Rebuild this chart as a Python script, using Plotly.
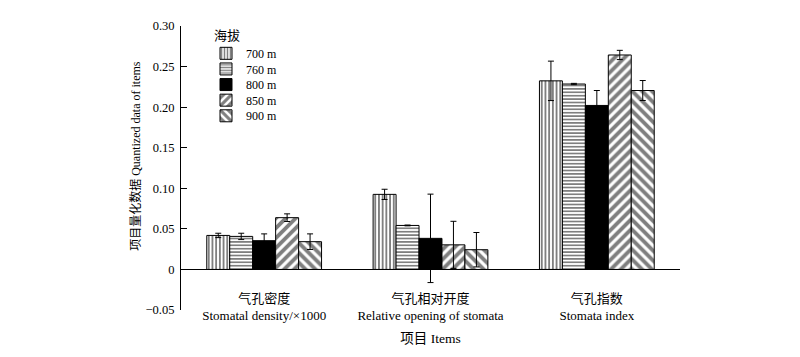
import plotly.graph_objects as go

categories = ["气孔密度<br>Stomatal density/×1000",
              "气孔相对开度<br>Relative opening of stomata",
              "气孔指数<br>Stomata index"]
series_names = ["700 m", "760 m", "800 m", "850 m", "900 m"]
values_700 = [0.0419, 0.0925, 0.2324]
values_760 = [0.0407, 0.0542, 0.2285]
values_800 = [0.0354, 0.0383, 0.2021]
values_850 = [0.0638, 0.0303, 0.2643]
values_900 = [0.0342, 0.0243, 0.2205]
err_700 = [0.0027, 0.0063, 0.0243]
err_760 = [0.0039, 0.0005, 0.0008]
err_800 = [0.0084, 0.0545, 0.0184]
err_850 = [0.0047, 0.0290, 0.0057]
err_900 = [0.0096, 0.0212, 0.0123]
y_tickvals = [-0.05, 0, 0.05, 0.10, 0.15, 0.20, 0.25, 0.30]
y_ticktext = ["\u22120.05", "0", "0.05", "0.10", "0.15", "0.20", "0.25", "0.30"]

FONT = "Liberation Serif, Times New Roman, Noto Sans CJK SC, serif"

values = [values_700, values_760, values_800, values_850, values_900]
errors = [err_700, err_760, err_800, err_850, err_900]
patterns = [
    dict(shape="|", size=3.7, solidity=0.5, fgcolor="black", bgcolor="white"),
    dict(shape="-", size=3.4, solidity=0.5, fgcolor="black", bgcolor="white"),
    dict(shape=""),
    dict(shape="/", size=7, solidity=0.55, fgcolor="black", bgcolor="white"),
    dict(shape="\\", size=7, solidity=0.55, fgcolor="black", bgcolor="white"),
]
colors = ["white", "white", "black", "white", "white"]
legend_ids = ["legend", "legend2", "legend3", "legend4", "legend5"]

# page offset of 8px (default body margin) compensated below
W, H = 792, 349
ML, MR, MT, MB = 173, 120, 11, 47
plot_h = H - MT - MB

def py(yfig):
    return (H - MB - yfig) / plot_h

fig = go.Figure()
for name, v, e, p, c, lg in zip(series_names, values, errors, patterns, colors, legend_ids):
    fig.add_trace(go.Bar(
        x=categories, y=v, name=name, legend=lg,
        marker=dict(color=c, line=dict(color="black", width=1), pattern=p),
        error_y=dict(type="data", array=e, symmetric=True, color="black", thickness=1, width=3),
    ))

legend_centers = [39, 55, 71, 87, 103]
layout_legends = {}
for lg, yc in zip(legend_ids, legend_centers):
    layout_legends[lg] = dict(
        x=(206 - 8 - ML) / 499, y=py(yc), xanchor="left", yanchor="middle",
        bgcolor="rgba(0,0,0,0)", font=dict(size=12, family=FONT, color="black"),
        borderwidth=0,
    )

fig.update_layout(
    width=W, height=H,
    margin=dict(l=ML, r=MR, t=MT, b=MB),
    paper_bgcolor="white", plot_bgcolor="white",
    font=dict(family=FONT, size=12, color="black"),
    barmode="group", bargap=0.31, bargroupgap=0,
    showlegend=True,
    xaxis=dict(
        anchor="free", position=(0.05 / 0.35),
        showline=True, linecolor="black", linewidth=1,
        ticks="", showgrid=False, zeroline=False,
        ticklabelstandoff=17,
        title=dict(text="项目 Items", font=dict(size=13.5, family=FONT), standoff=11),
        tickfont=dict(size=13, family=FONT),
    ),
    yaxis=dict(
        range=[-0.05, 0.30], tickvals=y_tickvals, ticktext=y_ticktext,
        showline=True, linecolor="black", linewidth=1,
        ticks="inside", ticklen=6, tickcolor="black",
        showgrid=False, zeroline=False, ticklabelstandoff=3,
        tickfont=dict(size=12.5, family=FONT),
    ),
    annotations=[
        dict(
            text="项目量化数据 Quantized data of items", textangle=-90,
            xref="paper", yref="paper", x=(136 - 8 - ML) / 499, y=py(152 - 8),
            xanchor="center", yanchor="middle", showarrow=False,
            font=dict(size=12, family=FONT),
        ),
        dict(
            text="海拔", xref="paper", yref="paper",
            x=(212 - 8 - ML) / 499, y=py(29 - 8),
            xanchor="left", yanchor="middle", showarrow=False,
            font=dict(size=13, family=FONT),
        ),
    ],
    **layout_legends,
)

fig.write_html("out.html")
